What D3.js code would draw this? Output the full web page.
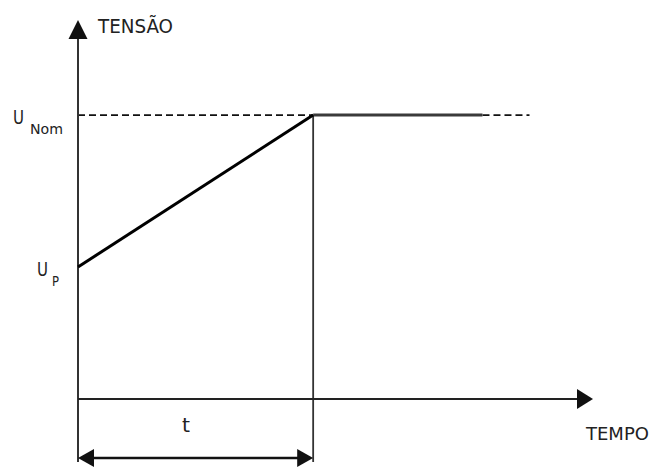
<!DOCTYPE html>
<meta charset="utf-8">
<script src="https://d3js.org/d3.v7.min.js"></script>
<style>
  body { margin: 0; background: #fff; }
  text { font-family: "DejaVu Sans", Verdana, sans-serif; fill: #222; }
</style>
<div id="my_dataviz"></div>
<script>

// values (voltage relative to U_Nom, time relative to t)
var rampTime = [0, 1];
var rampVolt = [0.465, 1];
var holdTime = [1, 1.72];
var refDashTime = [0, 1];
var extDashTime = [1.72, 1.92];
var nomVolt = 1;
var tMax = 2.19, uMax = 1.335;
var levelNames = ["U", "U"];
var levelSubs = ["Nom", "P"];
var levelValues = [1, 0.465];

var width = 653, height = 468;

var svg = d3.select("#my_dataviz")
  .append("svg")
    .attr("width", width)
    .attr("height", height);

var x = d3.scaleLinear().domain([0, tMax]).range([78, 593]);
var y = d3.scaleLinear().domain([0, uMax]).range([399, 20]);

var line = d3.line()
  .x(function(d) { return x(d[0]); })
  .y(function(d) { return y(d[1]); });

// dashed reference level
svg.append("path")
  .attr("d", line(refDashTime.map(function(t) { return [t, nomVolt]; })))
  .attr("stroke", "#111").attr("stroke-width", 1.6)
  .attr("stroke-dasharray", "7,4").attr("fill", "none");
svg.append("path")
  .attr("d", line(extDashTime.map(function(t) { return [t, nomVolt]; })))
  .attr("stroke", "#111").attr("stroke-width", 1.6)
  .attr("stroke-dasharray", "7,4").attr("fill", "none");

// end of ramp vertical marker
svg.append("line")
  .attr("x1", x(1)).attr("x2", x(1))
  .attr("y1", y(nomVolt)).attr("y2", 462)
  .attr("stroke", "#333").attr("stroke-width", 1.8);

// axes
svg.append("line")
  .attr("x1", x(0)).attr("x2", x(0))
  .attr("y1", 462).attr("y2", y(uMax) + 10)
  .attr("stroke", "#333").attr("stroke-width", 2);
svg.append("line")
  .attr("x1", x(0)).attr("x2", x(tMax) - 8)
  .attr("y1", y(0)).attr("y2", y(0))
  .attr("stroke", "#222").attr("stroke-width", 2);

svg.append("path")
  .attr("d", d3.line()([[x(0), y(uMax)], [x(0) - 9.5, y(uMax) + 19], [x(0) + 9.5, y(uMax) + 19]]) + "Z")
  .attr("fill", "#111");
svg.append("path")
  .attr("d", d3.line()([[x(tMax), y(0)], [x(tMax) - 16, y(0) - 10], [x(tMax) - 16, y(0) + 10]]) + "Z")
  .attr("fill", "#111");

// hold level
svg.append("path")
  .attr("d", line(holdTime.map(function(t) { return [t, nomVolt]; })))
  .attr("stroke", "#3a3a3a").attr("stroke-width", 3).attr("fill", "none");

// ramp
svg.append("path")
  .attr("d", line(rampTime.map(function(t, i) { return [t, rampVolt[i]]; })))
  .attr("stroke", "#000").attr("stroke-width", 3).attr("fill", "none");

// duration arrow
var dimY = 458;
svg.append("line")
  .attr("x1", x(0) + 10).attr("x2", x(1) - 10)
  .attr("y1", dimY).attr("y2", dimY)
  .attr("stroke", "#111").attr("stroke-width", 2.5);
svg.append("path")
  .attr("d", d3.line()([[x(0), dimY], [x(0) + 16, dimY - 9], [x(0) + 16, dimY + 9]]) + "Z")
  .attr("fill", "#111");
svg.append("path")
  .attr("d", d3.line()([[x(1), dimY], [x(1) - 16, dimY - 9], [x(1) - 16, dimY + 9]]) + "Z")
  .attr("fill", "#111");

svg.append("text")
  .attr("x", 186).attr("y", 432)
  .attr("text-anchor", "middle")
  .style("font-size", "20px")
  .attr("textLength", 8).attr("lengthAdjust", "spacingAndGlyphs")
  .text("t");

// axis titles
svg.append("text")
  .attr("x", 98).attr("y", 33)
  .style("font-size", "20px")
  .attr("textLength", 75).attr("lengthAdjust", "spacingAndGlyphs")
  .text("TENSÃO");
svg.append("text")
  .attr("x", 586).attr("y", 440)
  .style("font-size", "18px")
  .text("TEMPO");

// level labels
var mainX = [13, 37], subX = [30, 52], subW = [33, 7];
levelValues.forEach(function(v, i) {
  svg.append("text")
    .attr("x", mainX[i]).attr("y", y(v) + 9)
    .style("font-size", "20px")
    .attr("textLength", 11).attr("lengthAdjust", "spacingAndGlyphs")
    .text(levelNames[i]);
  svg.append("text")
    .attr("x", subX[i]).attr("y", y(v) + 19)
    .style("font-size", "14px")
    .attr("textLength", subW[i]).attr("lengthAdjust", "spacingAndGlyphs")
    .text(levelSubs[i]);
});

</script>
